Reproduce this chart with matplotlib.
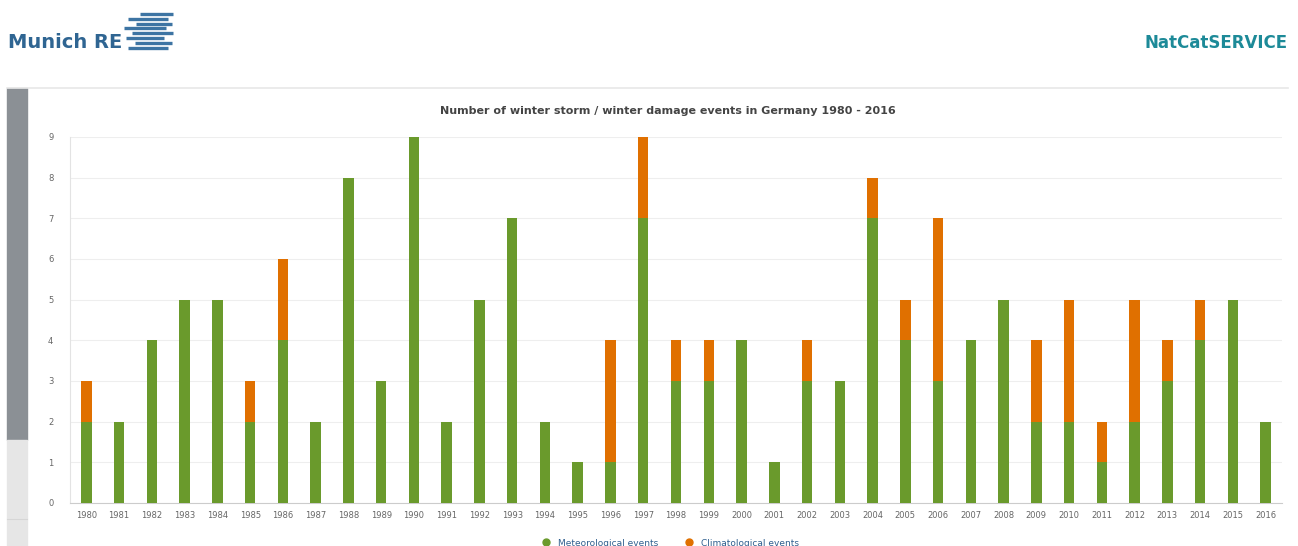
import matplotlib
matplotlib.use("Agg")
import matplotlib.pyplot as plt
from matplotlib.patches import Rectangle
from matplotlib.lines import Line2D

years = [str(y) for y in range(1980, 2017)]
meteorological = [2, 2, 4, 5, 5, 2, 4, 2, 8, 3, 9, 2, 5, 7, 2, 1, 1, 7, 3, 3,
                  4, 1, 3, 3, 7, 4, 3, 4, 5, 2, 2, 1, 2, 3, 4, 5, 2]
climatological = [1, 0, 0, 0, 0, 1, 2, 0, 0, 0, 0, 0, 0, 0, 0, 0, 3, 2, 1, 1,
                  0, 0, 1, 0, 1, 1, 4, 0, 0, 2, 3, 1, 3, 1, 1, 0, 0]

green = '#6a9a2c'
orange = '#e07000'
W, H = 1298, 546

fig = plt.figure(figsize=(W / 100, H / 100), dpi=100)
fig.patch.set_facecolor('white')


def px(x0, y0, w, h):
    # pixel box (top-left origin) -> figure fraction
    return [x0 / W, 1 - (y0 + h) / H, w / W, h / H]


# page chrome: sidebar, separator, logos
fig.patches.append(Rectangle((7 / W, 1 - 440 / H), 20 / W, 352 / H,
                             transform=fig.transFigure, color='#8b9095', zorder=0))
fig.patches.append(Rectangle((7 / W, 0), 20 / W, 106 / H,
                             transform=fig.transFigure, color='#e6e6e6', zorder=0))
fig.lines.append(Line2D([7 / W, 27 / W], [1 - 519 / H, 1 - 519 / H],
                        transform=fig.transFigure, color='#d6d6d6', lw=0.8))
fig.lines.append(Line2D([7 / W, 1288 / W], [1 - 88 / H, 1 - 88 / H],
                        transform=fig.transFigure, color='#e8e8e8', lw=1.2))
fig.text(8 / W, 1 - 42 / H, 'Munich RE', fontsize=14, fontweight='bold',
         color='#2f6592', va='center', ha='left')
for i, (x0, x1) in enumerate([(140, 173), (128, 168), (136, 172), (124, 166),
                              (132, 173), (126, 164), (135, 172), (128, 168)]):
    yy = 1 - (14 + i * 4.8) / H
    fig.lines.append(Line2D([x0 / W, x1 / W], [yy, yy], transform=fig.transFigure,
                            color='#3d74a3', lw=2.4, solid_capstyle='butt'))
fig.text(1288 / W, 1 - 43 / H, 'NatCatSERVICE', fontsize=12, fontweight='bold',
         color='#1d8a98', va='center', ha='right')

# chart
ax = fig.add_axes(px(70, 137, 1212, 366))
x = list(range(len(years)))
ax.bar(x, meteorological, width=0.32, color=green, label='Meteorological events', zorder=3)
ax.bar(x, climatological, width=0.32, bottom=meteorological, color=orange,
       label='Climatological events', zorder=3)

ax.set_xlim(-0.5, len(years) - 0.5)
ax.set_ylim(0, 9)
ax.set_yticks(range(0, 10))
ax.set_xticks(x)
ax.set_xticklabels(years)
ax.tick_params(axis='both', labelsize=6, colors='#666666', length=0, pad=6)
ax.tick_params(axis='y', pad=12)
ax.grid(axis='y', color='#eeeeee', lw=0.8, zorder=0)
for s in ['top', 'right']:
    ax.spines[s].set_visible(False)
ax.spines['left'].set_color('#e3e3e3')
ax.spines['bottom'].set_color('#cccccc')
ax.set_ylabel('Number of events', fontsize=6.5, color='#555555', labelpad=16)

fig.text(668 / W, 1 - 111 / H, 'Number of winter storm / winter damage events in Germany 1980 - 2016',
         fontsize=8, fontweight='bold', color='#444444', ha='center', va='center')

handles = [Line2D([], [], marker='o', ls='', color=green, markersize=5),
           Line2D([], [], marker='o', ls='', color=orange, markersize=5)]
fig.legend(handles, ['Meteorological events', 'Climatological events'],
           loc='center', bbox_to_anchor=(668 / W, 1 - 543 / H), ncol=2, frameon=False,
           fontsize=6.5, labelcolor='#2f5f8f', handletextpad=0.3, columnspacing=2.5,
           borderpad=0.1)

fig.savefig('out.png', dpi=100)
